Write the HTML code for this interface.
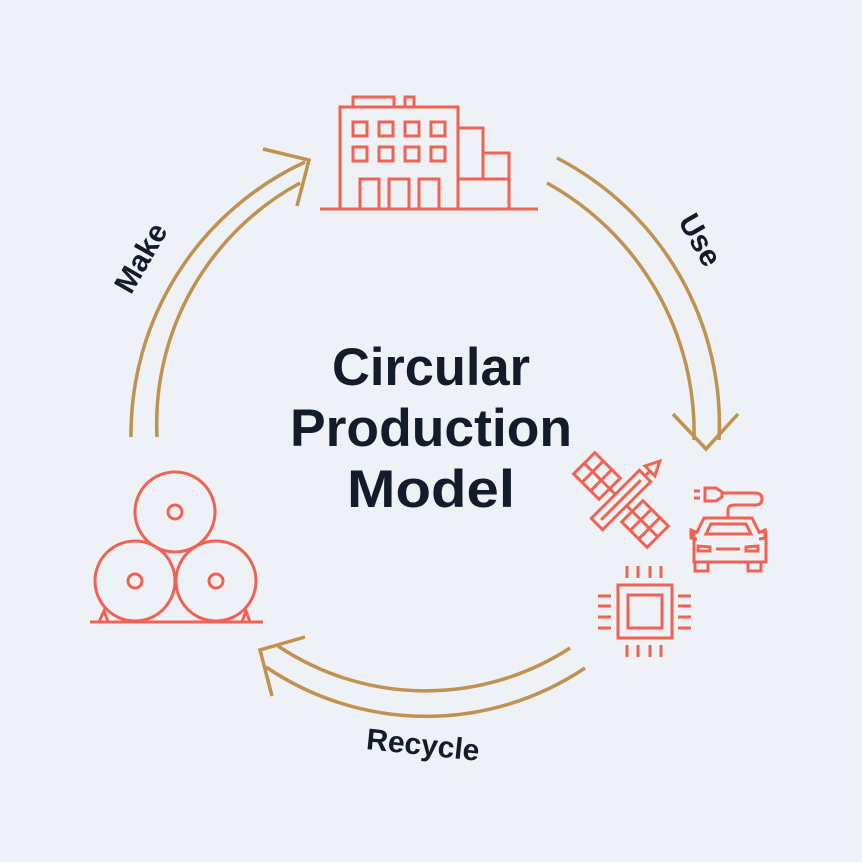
<!DOCTYPE html>
<html><head><meta charset="utf-8"><style>
html,body{margin:0;padding:0;background:#eef1f5;}
svg{display:block}
</style></head><body>
<svg width="862" height="862" viewBox="0 0 862 862" xmlns="http://www.w3.org/2000/svg">
<rect width="862" height="862" fill="#eef1f5"/>
<g fill="none" stroke="#c0914f" stroke-width="3.5" stroke-linejoin="miter">
  <path d="M131,437 A300,300 0 0 1 305,162"/>
  <path d="M157,437 A274,274 0 0 1 300,183"/>
  <path d="M263,149 L309,160 L297,206"/>
  <path d="M557,158 A300,300 0 0 1 719,440"/>
  <path d="M547,183 A285,285 0 0 1 694,440"/>
  <path d="M673,414 L706,449 L738,414"/>
  <path d="M570,648 A265,265 0 0 1 278,646"/>
  <path d="M585,668 A285,285 0 0 1 266,667"/>
  <path d="M305,637 L260,650 L272,696"/>
</g>
<g font-family="Liberation Sans, sans-serif" fill="#141b2b" font-weight="bold">
  <text x="431" y="385" font-size="53" text-anchor="middle" textLength="198" lengthAdjust="spacingAndGlyphs">Circular</text>
  <text x="431" y="446" font-size="53" text-anchor="middle" textLength="282" lengthAdjust="spacingAndGlyphs">Production</text>
  <text x="431" y="507" font-size="53" text-anchor="middle" textLength="168" lengthAdjust="spacingAndGlyphs">Model</text>
  <text transform="translate(141,258) rotate(-60)" font-size="30" text-anchor="middle" dy="10">Make</text>
  <text transform="translate(700,240) rotate(60)" font-size="30" text-anchor="middle" dy="10">Use</text>
  <text transform="translate(423,745) rotate(6)" font-size="30" text-anchor="middle" dy="10">Recycle</text>
</g>
<g fill="none" stroke="#ee6352" stroke-width="3">
  <!-- building -->
  <path d="M320,209 H538"/>
  <rect x="340" y="107" width="118" height="102"/>
  <rect x="353" y="97" width="41" height="10"/>
  <rect x="405" y="97" width="9" height="10"/>
  <rect x="353" y="122" width="14" height="14"/><rect x="379" y="122" width="14" height="14"/><rect x="405" y="122" width="14" height="14"/><rect x="431" y="122" width="14" height="14"/>
  <rect x="353" y="147" width="14" height="14"/><rect x="379" y="147" width="14" height="14"/><rect x="405" y="147" width="14" height="14"/><rect x="431" y="147" width="14" height="14"/>
  <rect x="360" y="179" width="19" height="30"/><rect x="389" y="179" width="20" height="30"/><rect x="419" y="179" width="20" height="30"/>
  <path d="M458,128 H483 V179 M458,179 H509 V209 M483,153 H509 V179"/>
  <!-- rolls -->
  <circle cx="175" cy="512" r="40"/><circle cx="175" cy="512" r="7"/>
  <circle cx="135" cy="581" r="40"/><circle cx="135" cy="581" r="7"/>
  <circle cx="216" cy="581" r="40"/><circle cx="216" cy="581" r="7"/>
  <path d="M90,622 H263 M99,622 L104,611 L108,622 M242,622 L246,611 L250,622"/>
  <!-- chip -->
  <rect x="618" y="585" width="54" height="53"/>
  <rect x="628" y="595" width="34" height="33"/>
  <path d="M627,566 V578 M638,566 V578 M650,566 V578 M661,566 V578 M627,645 V657 M638,645 V657 M650,645 V657 M661,645 V657 M598,596 H611 M598,606 H611 M598,617 H611 M598,628 H611 M678,596 H691 M678,606 H691 M678,617 H691 M678,628 H691"/>
  <!-- satellite -->
  <g transform="translate(621,500) rotate(-45)">
    <rect x="-34" y="-8" width="68" height="16"/>
    <path d="M-28,0 H28"/>
    <rect x="-15" y="-52" width="30" height="36"/>
    <path d="M0,-52 V-16 M-15,-40 H15 M-15,-28 H15 M0,-16 V-8"/>
    <rect x="-15" y="16" width="30" height="36"/>
    <path d="M0,16 V52 M-15,28 H15 M-15,40 H15 M0,8 V16"/>
    <path d="M34,0 H41 M41,-7 L55,0 L41,7 Z"/>
  </g>
  <!-- car -->
  <path d="M697,532 L704,518 H752 L759,532 H766 V562 H694 V532 Z"/>
  <path d="M706,534 L711,524 H746 L751,534 Z"/>
  <path d="M698,533 L691,530 V538 L697,539 M758,533 L765,530 V538 L759,539"/>
  <path d="M698,546 L710,547 V551 H698 Z M758,546 L746,547 V551 H758 Z M716,549 H740"/>
  <path d="M695,562 V571 H708 V562 M748,562 V571 H761 V562"/>
  <path d="M728,518 V510 Q728,505 735,505 H755 Q762,505 762,499 Q762,493 755,493 H722"/>
  <path d="M705,488 H716 L722,492 V497 L716,501 H705 Z M694,491 H700 M694,498 H700"/>
</g>
</svg>
</body></html>
